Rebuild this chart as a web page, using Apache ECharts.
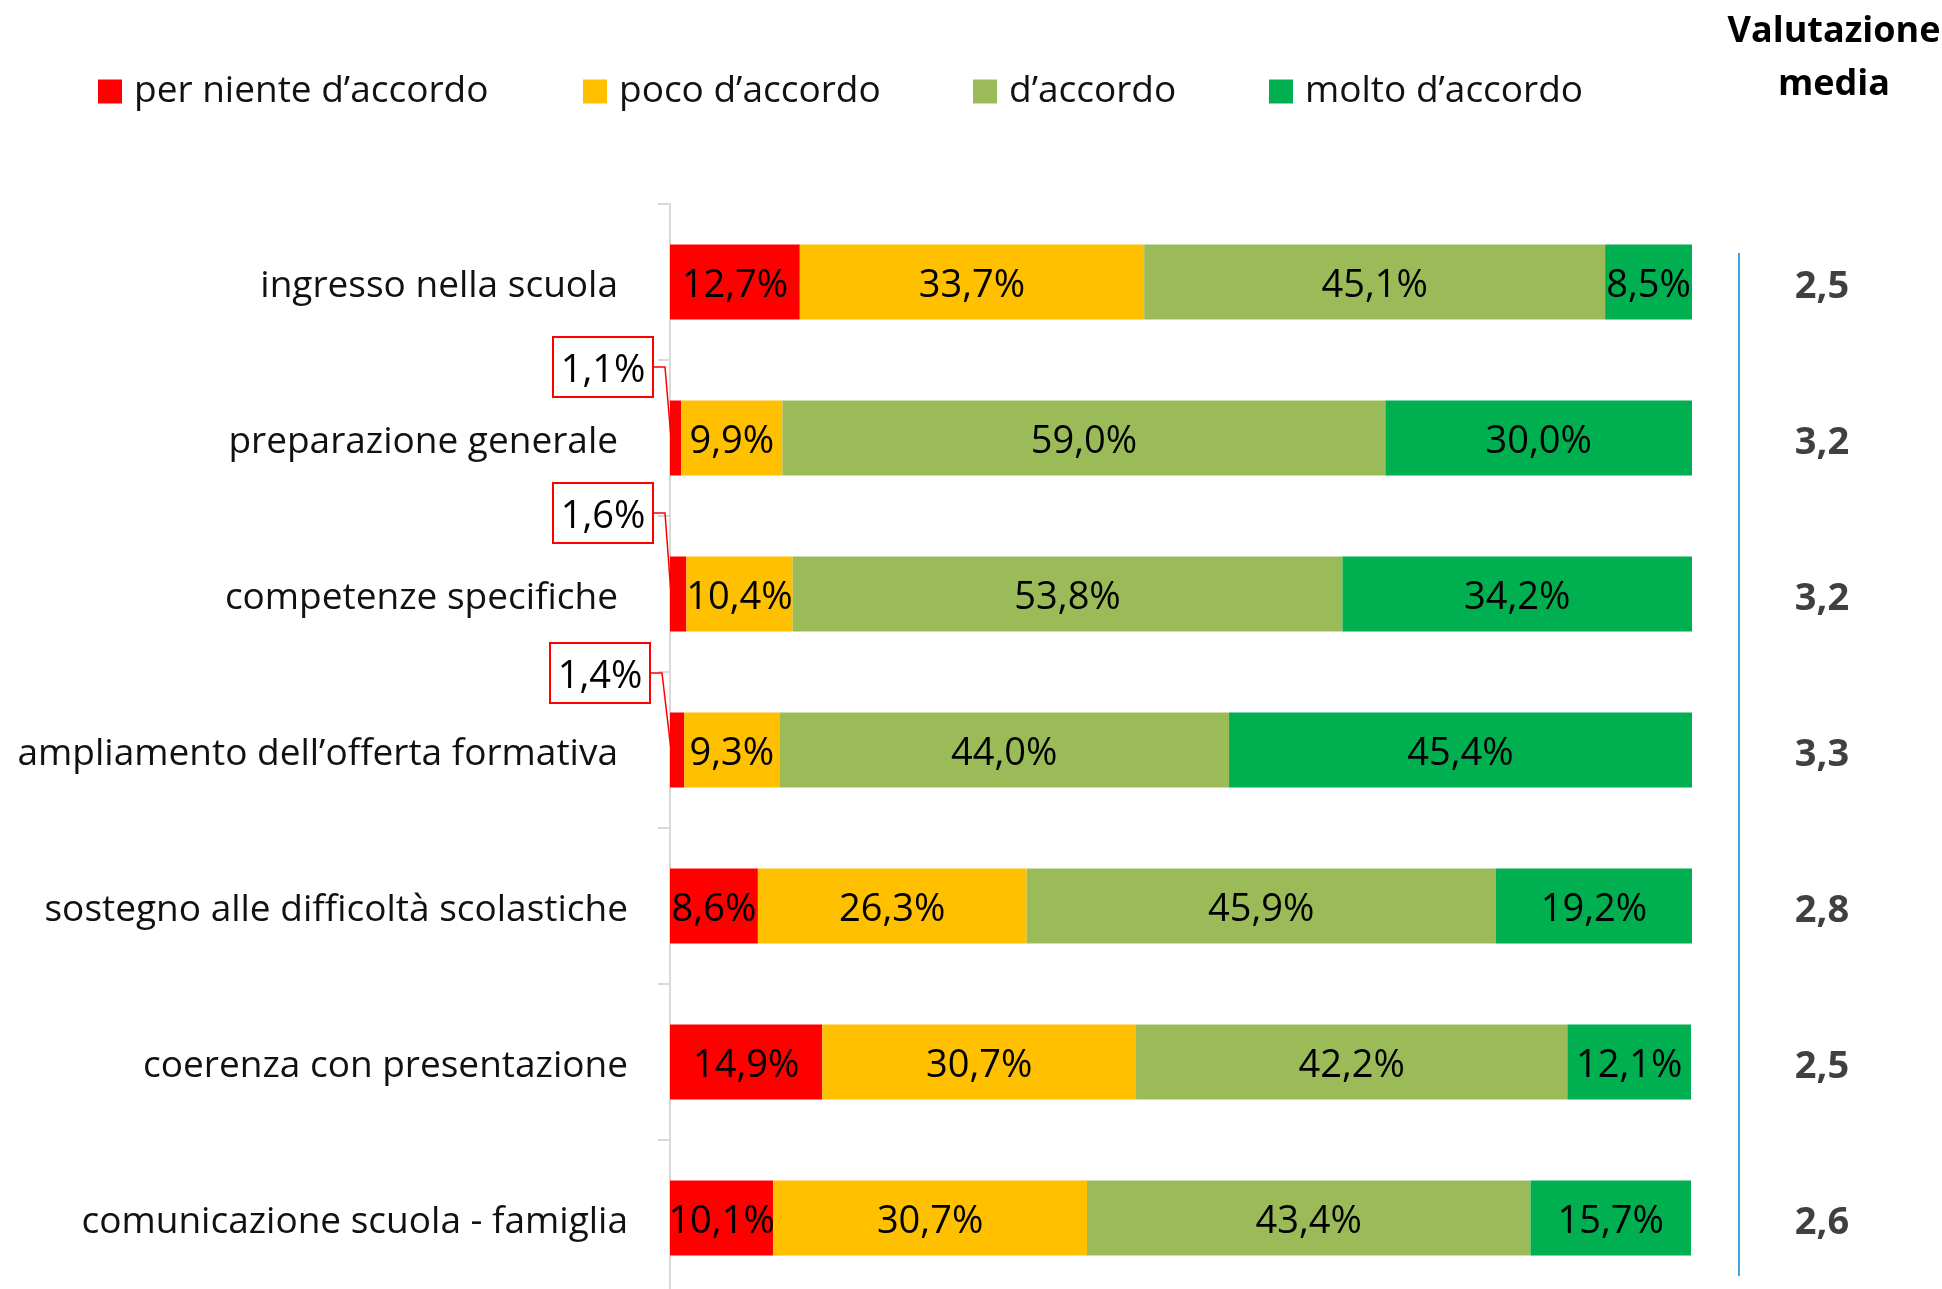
<!DOCTYPE html>
<html>
<head>
<meta charset="utf-8">
<script src="https://cdn.jsdelivr.net/npm/echarts@6/dist/echarts.min.js"></script>
<style>
  html, body { margin: 0; padding: 0; background: #fff; }
  #chart { width: 1942px; height: 1289px; }
</style>
</head>
<body>
<div id="chart"></div>
<script>
// data
const categories = [
  'ingresso nella scuola',
  'preparazione generale',
  'competenze specifiche',
  'ampliamento dell\u2019offerta formativa',
  'sostegno alle difficolt\u00e0 scolastiche',
  'coerenza con presentazione',
  'comunicazione scuola - famiglia'
];
const seriesNames = ['per niente d\u2019accordo', 'poco d\u2019accordo', 'd\u2019accordo', 'molto d\u2019accordo'];
const perNiente = [12.7, 1.1, 1.6, 1.4, 8.6, 14.9, 10.1];
const poco = [33.7, 9.9, 10.4, 9.3, 26.3, 30.7, 30.7];
const accordo = [45.1, 59.0, 53.8, 44.0, 45.9, 42.2, 43.4];
const molto = [8.5, 30.0, 34.2, 45.4, 19.2, 12.1, 15.7];
const valutazione = [2.5, 3.2, 3.2, 3.3, 2.8, 2.5, 2.6];
// rows whose red share is too thin, labelled in a box above
const calloutRows = [1, 2, 3];

const colors = ['#FF0000', '#FFC000', '#9BBB59', '#00B050'];
const FONT = '"Open Sans", sans-serif';
// box offset from the bar start (right edge, middle of the box)
const calloutOffset = [[-17, -71], [-17, -81], [-20, -77]];

function pct(v) {
  return v.toFixed(1).replace('.', ',') + '%';
}

const chart = echarts.init(document.getElementById('chart'));

const legendLeft = [98, 583, 973, 1269];
const legends = seriesNames.map(function (name, i) {
  return {
    data: [name],
    left: legendLeft[i],
    top: 73,
    padding: 0,
    icon: 'rect',
    itemWidth: 24,
    itemHeight: 24,
    selectedMode: false,
    textStyle: { fontSize: 37, color: '#111', fontFamily: FONT, padding: [0, 0, 0, 7] }
  };
});

function makeSeries(name, data, idx) {
  const s = {
    name: name,
    type: 'bar',
    stack: 'tot',
    barWidth: 75,
    itemStyle: { color: colors[idx] },
    label: {
      show: true,
      position: 'inside',
      offset: [0, 4],
      color: '#000',
      fontSize: 38,
      fontFamily: FONT,
      formatter: function (p) { return pct(p.value); }
    },
    data: data.slice()
  };
  if (idx === 0) {
    s.data = data.map(function (v, i) {
      if (calloutRows.indexOf(i) < 0) return v;
      return { value: v, label: { show: false } };
    });
  }
  return s;
}

// boxed labels with their leader lines
const calloutSeries = {
  type: 'custom',
  z: 10,
  silent: true,
  data: calloutRows.map(function (r) { return [0, r, perNiente[r]]; }),
  renderItem: function (params, api) {
    const pt = api.coord([0, api.value(1)]);
    const off = calloutOffset[params.dataIndex];
    const bw = 100, bh = 60;
    const rx = pt[0] + off[0];
    const cy = pt[1] + off[1];
    return {
      type: 'group',
      children: [
        {
          type: 'polyline',
          shape: { points: [[rx, cy], [rx + 12, cy], [pt[0] + 1, pt[1]]] },
          style: { stroke: '#FF0000', lineWidth: 1.5, fill: null }
        },
        {
          type: 'rect',
          shape: { x: rx - bw, y: cy - bh / 2, width: bw, height: bh },
          style: { fill: '#fff', stroke: '#FF0000', lineWidth: 2 }
        },
        {
          type: 'text',
          style: {
            text: pct(api.value(2)),
            x: rx - bw / 2,
            y: cy + 4,
            align: 'center',
            verticalAlign: 'middle',
            fontSize: 38,
            fontFamily: FONT,
            fill: '#000'
          }
        }
      ]
    };
  }
};

const option = {
  animation: false,
  backgroundColor: '#fff',
  title: {
    text: 'Valutazione\nmedia',
    left: 1834,
    top: 5,
    padding: 0,
    textAlign: 'center',
    textStyle: { fontSize: 36, fontWeight: 'bold', color: '#000', fontFamily: FONT, lineHeight: 53 }
  },
  legend: legends,
  grid: { left: 670, right: 250, top: 204, height: 1092, outerBoundsMode: 'none' },
  xAxis: { type: 'value', min: 0, max: 100, show: false },
  yAxis: [
    {
      type: 'category',
      data: categories,
      inverse: true,
      axisLine: { lineStyle: { color: '#D9D9D9', width: 2 } },
      axisTick: { show: true, length: 12, lineStyle: { color: '#D9D9D9', width: 2 } },
      axisLabel: {
        margin: 42,
        fontSize: 37,
        color: '#111',
        fontFamily: FONT,
        formatter: function (v, i) {
          return i < 4 ? '{a|' + v + '}' : '{b|' + v + '}';
        },
        rich: {
          a: { fontSize: 37, color: '#111', fontFamily: FONT, padding: [8, 10, 0, 0] },
          b: { fontSize: 37, color: '#111', fontFamily: FONT, padding: [8, 0, 0, 0] }
        }
      }
    },
    {
      type: 'category',
      data: valutazione.map(function (v) { return v.toFixed(1).replace('.', ','); }),
      inverse: true,
      position: 'right',
      axisLine: { show: false },
      axisTick: { show: false },
      axisLabel: {
        margin: 130,
        align: 'center',
        formatter: function (v) { return '{v|' + v + '}'; },
        rich: {
          v: { fontSize: 38, fontWeight: 'bold', color: '#404040', fontFamily: FONT, padding: [10, 0, 0, 0] }
        }
      }
    }
  ],
  graphic: [
    {
      type: 'line',
      shape: { x1: 1739, y1: 253, x2: 1739, y2: 1276 },
      style: { stroke: '#41A5E1', lineWidth: 2 }
    }
  ],
  series: [
    makeSeries(seriesNames[0], perNiente, 0),
    makeSeries(seriesNames[1], poco, 1),
    makeSeries(seriesNames[2], accordo, 2),
    makeSeries(seriesNames[3], molto, 3),
    calloutSeries
  ]
};

chart.setOption(option);
</script>
</body>
</html>
